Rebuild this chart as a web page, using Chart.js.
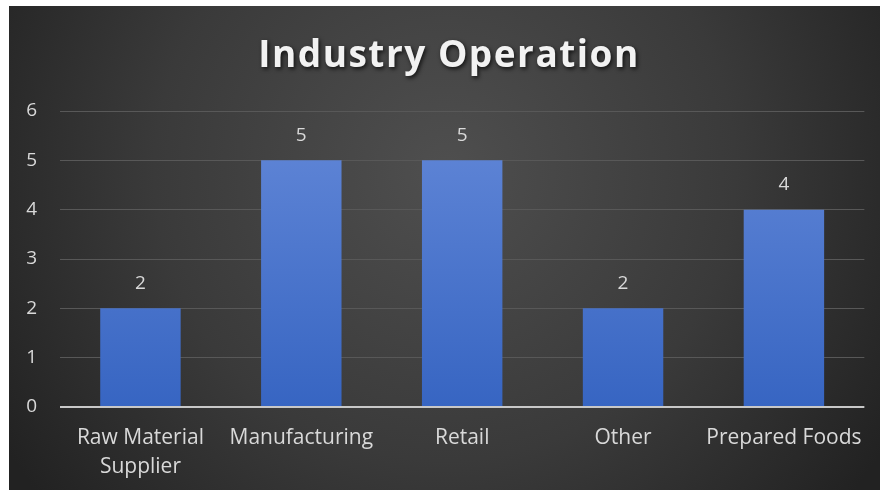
<!DOCTYPE html>
<html>
<head>
<meta charset="utf-8">
<script src="https://cdn.jsdelivr.net/npm/chart.js@4/dist/chart.umd.min.js"></script>
<style>
  html, body { margin: 0; padding: 0; background: #ffffff; }
  #wrap { width: 880px; height: 491px; }
</style>
</head>
<body>
<div id="wrap"><canvas id="c" width="880" height="491"></canvas></div>
<script>
// Industry operation counts
const categories = [['Raw Material', 'Supplier'], 'Manufacturing', 'Retail', 'Other', 'Prepared Foods'];
const counts = [2, 5, 5, 2, 4];
const yTicks = [0, 1, 2, 3, 4, 5, 6];
const chartTitle = 'Industry Operation';

const FONT = '"Open Sans", "DejaVu Sans", sans-serif';
const TEXT = '#d9d9d9';

// dark panel with a soft radial glow behind the plot
const panelBackground = {
  id: 'panelBackground',
  beforeDraw(chart) {
    const ctx = chart.ctx;
    ctx.save();
    ctx.fillStyle = '#ffffff';
    ctx.fillRect(0, 0, chart.width, chart.height);
    const x0 = 9, y0 = 6, x1 = 880, y1 = 490;
    const g = ctx.createRadialGradient(445, 170, 10, 445, 170, 520);
    g.addColorStop(0, '#4e4e4e');
    g.addColorStop(0.55, '#3a3a3a');
    g.addColorStop(1, '#222222');
    ctx.fillStyle = g;
    ctx.fillRect(x0, y0, x1 - x0, y1 - y0);
    ctx.restore();
  }
};

// heading with a drop shadow
const heading = {
  id: 'heading',
  afterDraw(chart) {
    const ctx = chart.ctx;
    ctx.save();
    ctx.font = 'bold 37px ' + FONT;
    if ('letterSpacing' in ctx) ctx.letterSpacing = '1.5px';
    ctx.textAlign = 'center';
    ctx.textBaseline = 'alphabetic';
    ctx.shadowColor = 'rgba(0,0,0,0.75)';
    ctx.shadowBlur = 4;
    ctx.shadowOffsetX = 1.5;
    ctx.shadowOffsetY = 2;
    ctx.fillStyle = '#f2f2f2';
    ctx.fillText(chartTitle, 449, 67);
    ctx.restore();
  }
};

// value printed above each bar
const valueLabels = {
  id: 'valueLabels',
  afterDatasetsDraw(chart) {
    const ctx = chart.ctx;
    const meta = chart.getDatasetMeta(0);
    ctx.save();
    ctx.font = '19px ' + FONT;
    ctx.fillStyle = TEXT;
    ctx.textAlign = 'center';
    ctx.textBaseline = 'middle';
    meta.data.forEach((bar, i) => {
      ctx.fillText(String(counts[i]), bar.x, bar.y - 25);
    });
    ctx.restore();
  }
};

function barFill(context) {
  const area = context.chart.chartArea;
  if (!area) return '#4a72c8';
  const g = context.chart.ctx.createLinearGradient(0, area.top, 0, area.bottom);
  g.addColorStop(0, '#6388d8');
  g.addColorStop(1, '#3765c2');
  return g;
}

new Chart(document.getElementById('c'), {
  type: 'bar',
  data: {
    labels: categories,
    datasets: [{
      data: counts,
      backgroundColor: barFill,
      borderWidth: 0,
      barPercentage: 0.5,
      categoryPercentage: 1.0
    }]
  },
  options: {
    responsive: false,
    animation: false,
    layout: { padding: { left: 9, right: 15, top: 111, bottom: 0 } },
    plugins: {
      legend: { display: false },
      title: { display: false },
      tooltip: { enabled: false }
    },
    scales: {
      x: {
        grid: { display: false, drawTicks: false },
        border: { display: false },
        ticks: {
          color: TEXT,
          font: { family: FONT, size: 21, lineHeight: 1.38 },
          padding: 17,
          maxRotation: 0,
          autoSkip: false
        },
        afterFit(scale) { scale.height = 84; }
      },
      y: {
        min: 0,
        max: 6,
        afterBuildTicks(scale) { scale.ticks = yTicks.map(v => ({ value: v })); },
        grid: {
          drawTicks: false,
          color: ctx => (ctx.tick && ctx.tick.value === 0) ? '#c8c8c8' : '#585858',
          lineWidth: ctx => (ctx.tick && ctx.tick.value === 0) ? 2 : 1
        },
        border: { display: false },
        ticks: {
          color: TEXT,
          font: { family: FONT, size: 19 },
          padding: 23
        },
        afterFit(scale) { scale.width = 51; }
      }
    }
  },
  plugins: [panelBackground, heading, valueLabels]
});
</script>
</body>
</html>
